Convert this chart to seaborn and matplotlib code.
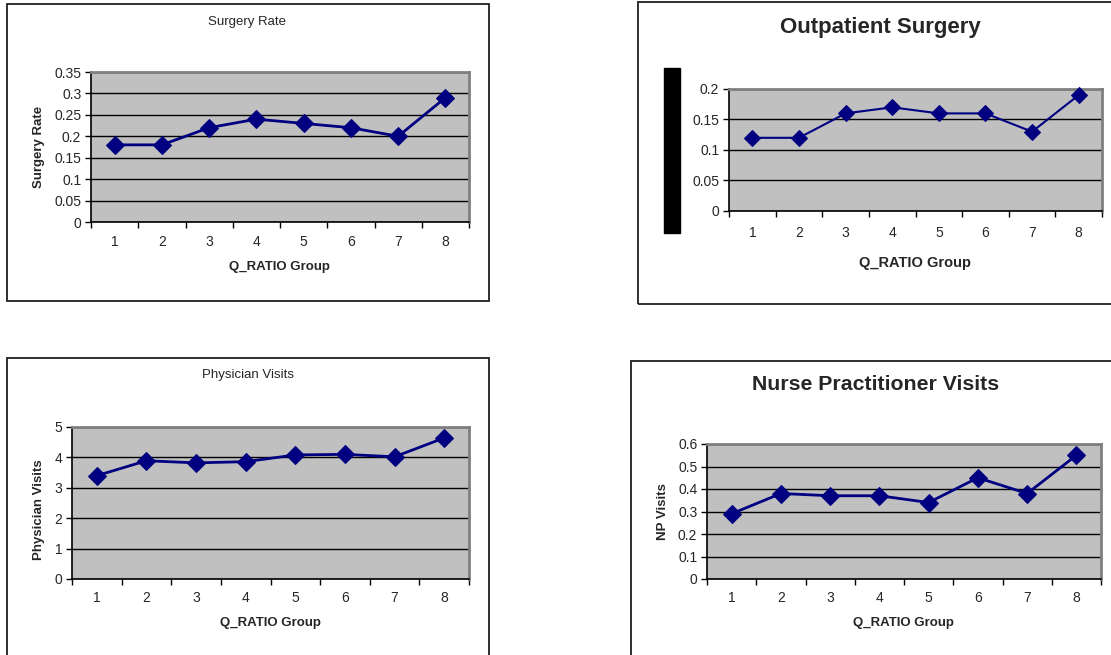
import matplotlib
matplotlib.use("Agg")
import matplotlib.pyplot as plt
from matplotlib.patches import Rectangle
from matplotlib.ticker import FixedLocator, MultipleLocator, FuncFormatter, NullFormatter, FixedFormatter
import seaborn as sns
import pandas as pd

# Values per Q_RATIO group
groups = [1, 2, 3, 4, 5, 6, 7, 8]
surgery_rate = [0.18, 0.18, 0.22, 0.24, 0.23, 0.22, 0.20, 0.29]
outpatient_surgery = [0.12, 0.12, 0.16, 0.17, 0.16, 0.16, 0.13, 0.19]
physician_visits = [3.40, 3.89, 3.82, 3.86, 4.08, 4.10, 4.02, 4.64]
np_visits = [0.29, 0.38, 0.37, 0.37, 0.34, 0.45, 0.38, 0.55]

sns.set_style("white")
plt.rcParams["font.family"] = ["Liberation Sans", "DejaVu Sans"]

W, H = 1111, 655
fig = plt.figure(figsize=(W / 100, H / 100), dpi=100)

NAVY = "#000080"
PLOT_BG = "#C0C0C0"


def px_axes(x0, y0, x1, y1):
    return fig.add_axes([x0 / W, 1 - y1 / H, (x1 - x0) / W, (y1 - y0) / H])


def frame(x0, y0, x1, y1):
    fig.add_artist(Rectangle((x0 / W, 1 - y1 / H), (x1 - x0) / W, (y1 - y0) / H,
                             transform=fig.transFigure, fill=False,
                             edgecolor="#202020", linewidth=1.3))


def fig_text(x, y, s, **kw):
    fig.text(x / W, 1 - y / H, s, ha="center", va="center", **kw)


def panel(box, values, ymax, ystep, ms, lw, xlab_pad):
    ax = px_axes(*box)
    df = pd.DataFrame({"group": groups, "value": values})
    sns.lineplot(data=df, x="group", y="value", ax=ax, color=NAVY,
                 marker="D", markersize=ms, markeredgecolor=NAVY,
                 linewidth=lw, errorbar=None, clip_on=False, zorder=5)
    ax.set_facecolor(PLOT_BG)
    ax.set_xlim(0.5, 8.5)
    ax.set_ylim(0, ymax)
    ax.yaxis.set_major_locator(MultipleLocator(ystep))
    ax.yaxis.set_major_formatter(FuncFormatter(lambda v, p: f"{round(v, 4):g}"))
    ax.yaxis.grid(True, color="black", linewidth=1)
    ax.set_axisbelow(True)
    ax.xaxis.set_major_locator(FixedLocator([g - 0.5 for g in groups] + [8.5]))
    ax.xaxis.set_major_formatter(NullFormatter())
    ax.xaxis.set_minor_locator(FixedLocator(groups))
    ax.xaxis.set_minor_formatter(FixedFormatter([str(g) for g in groups]))
    ax.tick_params(axis="x", which="major", direction="out", length=4, width=1,
                   color="black", bottom=True)
    ax.tick_params(axis="x", which="minor", length=0, pad=xlab_pad, labelsize=10)
    ax.tick_params(axis="y", direction="out", length=4, width=1, color="black",
                   left=True, labelsize=10, pad=3)
    for side in ("top", "right"):
        ax.spines[side].set_visible(True)
        ax.spines[side].set_color("#808080")
        ax.spines[side].set_linewidth(2)
    for side in ("left", "bottom"):
        ax.spines[side].set_color("black")
        ax.spines[side].set_linewidth(1.2)
    ax.set_xlabel("")
    ax.set_ylabel("")
    return ax


# Surgery Rate
frame(7, 4, 489, 301)
ax1 = panel((91, 72, 469, 222), surgery_rate, 0.35, 0.05, 9, 2, 9)
fig_text(247, 22, "Surgery Rate", fontsize=9.5)
fig_text(279, 267, "Q_RATIO Group", fontsize=9.5, fontweight="bold")
fig_text(39, 147, "Surgery Rate", fontsize=9.5, fontweight="bold", rotation=90)

# Outpatient Surgery
frame(638, 2, 1120, 304)
ax2 = panel((729, 89, 1102, 211), outpatient_surgery, 0.2, 0.05, 8, 1.5, 11)
fig_text(880, 27, "Outpatient Surgery", fontsize=16, fontweight="bold")
fig_text(915, 263, "Q_RATIO Group", fontsize=10.5, fontweight="bold")
fig.add_artist(Rectangle((664 / W, 1 - 233 / H), 16 / W, 165 / H,
                         transform=fig.transFigure, color="black"))

# Physician Visits
frame(7, 358, 489, 670)
ax3 = panel((72, 427, 469, 579), physician_visits, 5, 1, 9, 2, 9)
fig_text(248, 375, "Physician Visits", fontsize=9.5)
fig_text(270, 623, "Q_RATIO Group", fontsize=9.5, fontweight="bold")
fig_text(39, 510, "Physician Visits", fontsize=9.5, fontweight="bold", rotation=90)

# Nurse Practitioner Visits
frame(631, 361, 1120, 670)
ax4 = panel((707, 444, 1101, 579), np_visits, 0.6, 0.1, 9, 2, 9)
fig_text(876, 385, "Nurse Practitioner Visits", fontsize=15.3, fontweight="bold")
fig_text(903, 623, "Q_RATIO Group", fontsize=9.5, fontweight="bold")
fig_text(663, 512, "NP Visits", fontsize=9.5, fontweight="bold", rotation=90)

fig.savefig("out.png", dpi=100, facecolor="white")
